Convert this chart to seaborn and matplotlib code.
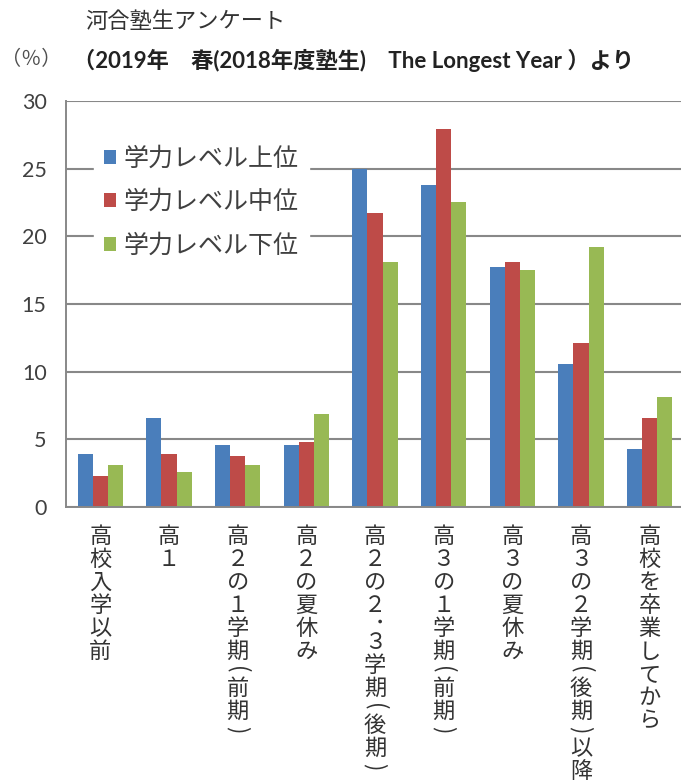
import matplotlib
matplotlib.use("Agg")
import matplotlib.pyplot as plt
import matplotlib.transforms as mtransforms
import seaborn as sns
import pandas as pd

# categories (x axis), written horizontally; turned vertical below
categories = ["高校入学以前", "高１", "高２の１学期（前期）", "高２の夏休み",
              "高２の２・３学期（後期）", "高３の１学期（前期）", "高３の夏休み",
              "高３の２学期（後期）以降", "高校を卒業してから"]
series = ["学力レベル上位", "学力レベル中位", "学力レベル下位"]
upper = [3.9, 6.6, 4.6, 4.6, 25.0, 23.8, 17.7, 10.6, 4.3]
middle = [2.3, 3.9, 3.8, 4.8, 21.7, 27.9, 18.1, 12.1, 6.6]
lower = [3.1, 2.6, 3.1, 6.9, 18.1, 22.5, 17.5, 19.2, 8.1]
yticks = [0, 5, 10, 15, 20, 25, 30]

colors = ["#4A7EBB", "#BE4B48", "#98B954"]

rows = []
for name, vals in zip(series, [upper, middle, lower]):
    for c, v in zip(categories, vals):
        rows.append({"cat": c, "level": name, "value": v})
df = pd.DataFrame(rows)

sns.set_style("white")
plt.rcParams["font.family"] = ["Noto Sans CJK JP", "DejaVu Sans"]

fig = plt.figure(figsize=(6.81, 7.84), dpi=100)
ax = fig.add_axes([66 / 681, 1 - 507 / 784, 618 / 681, 406 / 784])

sns.barplot(data=df, x="cat", y="value", hue="level", palette=colors,
            width=0.66, saturation=1, ax=ax, linewidth=0)

ax.set_xlim(-0.5, len(categories) - 0.5)
ax.set_ylim(0, 30)
ax.set_yticks(yticks)
ax.set_yticklabels([str(t) for t in yticks], family=["Lato", "DejaVu Sans"],
                   fontsize=15.5, color="#404040")
ax.yaxis.grid(True, color="#888888", linewidth=1.5)
ax.set_axisbelow(True)
ax.tick_params(axis="y", length=8, width=1.2, color="#888888", pad=6)

ax.set_xticks(range(len(categories)))
ax.set_xticklabels([])
ax.set_xticks([i - 0.5 for i in range(len(categories) + 1)], minor=True)
ax.tick_params(axis="x", which="major", length=0)
ax.tick_params(axis="x", which="minor", length=7, width=1.2, color="#888888")
ax.set_xlabel("")
ax.set_ylabel("")

# vertical (tategaki) category labels, one character at a time;
# brackets and the middle dot are turned sideways and take less room
turned = {"（": "(", "）": ")", "・": "･"}
for i, label in enumerate(categories):
    y = 18
    for ch in label:
        if ch in turned:
            h, txt, rot = 14, turned[ch], -90
        else:
            h, txt, rot = 23, ch, 0
        tr = mtransforms.offset_copy(ax.get_xaxis_transform(), fig=fig,
                                     x=0, y=-(y + h / 2), units="dots")
        ax.text(i, 0, txt, transform=tr, ha="center", va="center",
                rotation=rot, rotation_mode="anchor", fontsize=16,
                color="#333333", clip_on=False)
        y += h

for side in ["top", "right"]:
    ax.spines[side].set_visible(False)
for side in ["left", "bottom"]:
    ax.spines[side].set_color("#888888")
    ax.spines[side].set_linewidth(1.4)

leg = ax.legend(loc="upper left", bbox_to_anchor=(0.045, 0.915), borderaxespad=0,
                frameon=True, facecolor="white", edgecolor="white", framealpha=1,
                fontsize=18, handlelength=0.5, handleheight=0.5, handletextpad=0.3,
                labelspacing=0.7, borderpad=0.4)
for t in leg.get_texts():
    t.set_color("#404040")

fig.text(85 / 681, 1 - 22 / 784, "河合塾生アンケート", fontsize=16, color="#333333",
         va="center", ha="left")
fig.text(73 / 681, 1 - 60 / 784, "（2019年　春(2018年度塾生)　The Longest Year ）より",
         fontsize=16, fontweight="bold", color="#222222", va="center", ha="left",
         family=["Lato", "Noto Sans CJK JP"])
fig.text(1 / 681, 1 - 60 / 784, "（％）", fontsize=14.5, color="#505050",
         va="center", ha="left")

fig.savefig("out.png", dpi=100)
